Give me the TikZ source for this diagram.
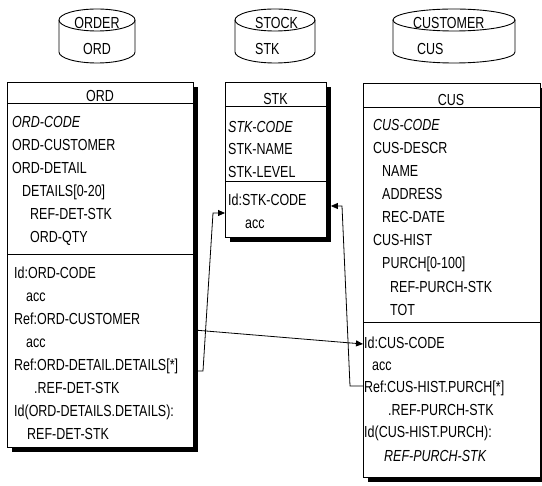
\documentclass[tikz,border=0pt]{standalone}
\usepackage{fontspec}
\setmainfont[FakeStretch=0.78]{Liberation Sans}
\usetikzlibrary{arrows.meta,shadows,calc}
\begin{document}
\begin{tikzpicture}[x=1pt,y=-1pt,
 every node/.style={font=\fontsize{16}{18}\selectfont},
 t/.style={anchor=base west, inner sep=0pt},
 ttl/.style={anchor=base, inner sep=0pt},
 box/.style={draw, line width=0.9pt, fill=white, anchor=north west, inner sep=0pt,
   drop shadow={shadow xshift=4.5pt, shadow yshift=-4.5pt, fill=black, opacity=1}},
 rule/.style={line width=0.9pt},
 conn/.style={line width=0.8pt, -{Triangle[length=7pt,width=6pt]}},
 cyl/.style={line width=0.9pt}
]
\useasboundingbox (0,0) rectangle (542,486);
\fill[white] (0,0) rectangle (542,486);

% ---- cylinders ----
\draw[cyl] (97,20) ellipse [x radius=38pt, y radius=11pt];
\draw[cyl] (59,20) -- (59,52) arc[start angle=180, end angle=360, x radius=38pt, y radius=11pt] -- (135,20);
\node[ttl] (dbord) at (97,29) {ORDER};
\node[ttl] (dbordn) at (97,55) {ORD};

\draw[cyl] (275,20) ellipse [x radius=40pt, y radius=11pt];
\draw[cyl] (235,20) -- (235,52) arc[start angle=180, end angle=360, x radius=40pt, y radius=11pt] -- (315,20);
\node[t] (dbstk) at (255,29) {STOCK};
\node[t] (dbstkn) at (255,55) {STK};

\draw[cyl] (454,20) ellipse [x radius=61pt, y radius=11pt];
\draw[cyl] (393,20) -- (393,52) arc[start angle=180, end angle=360, x radius=61pt, y radius=11pt] -- (515,20);
\node[t] (dbcus) at (413,29) {CUSTOMER};
\node[t] (dbcusn) at (417,55) {CUS};

% ---- boxes ----
\node[box, minimum width=186pt, minimum height=365pt] (ordbox) at (7,82) {};
\node[box, minimum width=101pt, minimum height=155pt] (stkbox) at (225,82) {};
\node[box, minimum width=177pt, minimum height=394pt] (cusbox) at (363,83) {};

\draw[rule] (ordbox.west |- 0,103) -- (ordbox.east |- 0,103);
\draw[rule] (ordbox.west |- 0,254) -- (ordbox.east |- 0,254);
\draw[rule] (stkbox.west |- 0,106) -- (stkbox.east |- 0,106);
\draw[rule] (stkbox.west |- 0,181) -- (stkbox.east |- 0,181);
\draw[rule] (cusbox.west |- 0,107) -- (cusbox.east |- 0,107);
\draw[rule] (cusbox.west |- 0,322) -- (cusbox.east |- 0,322);

% ---- ORD ----
\node[ttl] (ordt) at (100,102) {ORD};
\node[t] (o1) at (12,128) {\itshape ORD-CODE};
\node[t] (o2) at (12,151) {ORD-CUSTOMER};
\node[t] (o3) at (12,174) {ORD-DETAIL};
\node[t] (o4) at (22,197) {DETAILS[0-20]};
\node[t] (o5) at (30,220) {REF-DET-STK};
\node[t] (o6) at (30,243) {ORD-QTY};
\node[t] (o7) at (14,279) {Id:ORD-CODE};
\node[t] (o8) at (26,302) {acc};
\node[t] (o9) at (14,325) {Ref:ORD-CUSTOMER};
\node[t] (o10) at (26,348) {acc};
\node[t] (o11) at (14,371) {Ref:ORD-DETAIL.DETAILS[*]};
\node[t] (o12) at (34,394) {.REF-DET-STK};
\node[t] (o13) at (14,417) {Id(ORD-DETAILS.DETAILS):};
\node[t] (o14) at (27,440) {REF-DET-STK};

% ---- STK ----
\node[ttl] (stkt) at (275.5,105) {STK};
\node[t] (s1) at (228,133) {\itshape STK-CODE};
\node[t] (s2) at (228,155) {STK-NAME};
\node[t] (s3) at (228,178) {STK-LEVEL};
\node[t] (s4) at (228,206) {Id:STK-CODE};
\node[t] (s5) at (245,229) {acc};

% ---- CUS ----
\node[ttl] (cust) at (451,106) {CUS};
\node[t] (c1) at (373,131) {\itshape CUS-CODE};
\node[t] (c2) at (373,154) {CUS-DESCR};
\node[t] (c3) at (382,177) {NAME};
\node[t] (c4) at (382,200) {ADDRESS};
\node[t] (c5) at (382,223) {REC-DATE};
\node[t] (c6) at (373,246) {CUS-HIST};
\node[t] (c7) at (382,269) {PURCH[0-100]};
\node[t] (c8) at (390,293) {REF-PURCH-STK};
\node[t] (c9) at (390,316) {TOT};
\node[t] (c10) at (364,349) {Id:CUS-CODE};
\node[t] (c11) at (372,371) {acc};
\node[t] (c12) at (364,393) {Ref:CUS-HIST.PURCH[*]};
\node[t] (c13) at (388,416) {.REF-PURCH-STK};
\node[t] (c14) at (364,438) {Id(CUS-HIST.PURCH):};
\node[t] (c15) at (384,462) {\itshape REF-PURCH-STK};

% ---- connectors ----
\coordinate (stkin) at ($(stkbox.east |- 0,206)+(4,0)$);
\draw[conn] (ordbox.east |- 0,330) -- (cusbox.west |- 0,344);
\draw[conn] (ordbox.east |- 0,371) -- (203,371) -- (213,213) -- (stkbox.west |- 0,213);
\draw[conn] (cusbox.west |- 0,386) -- (350,386) -- (342,206) -- (stkin);
\end{tikzpicture}
\end{document}
